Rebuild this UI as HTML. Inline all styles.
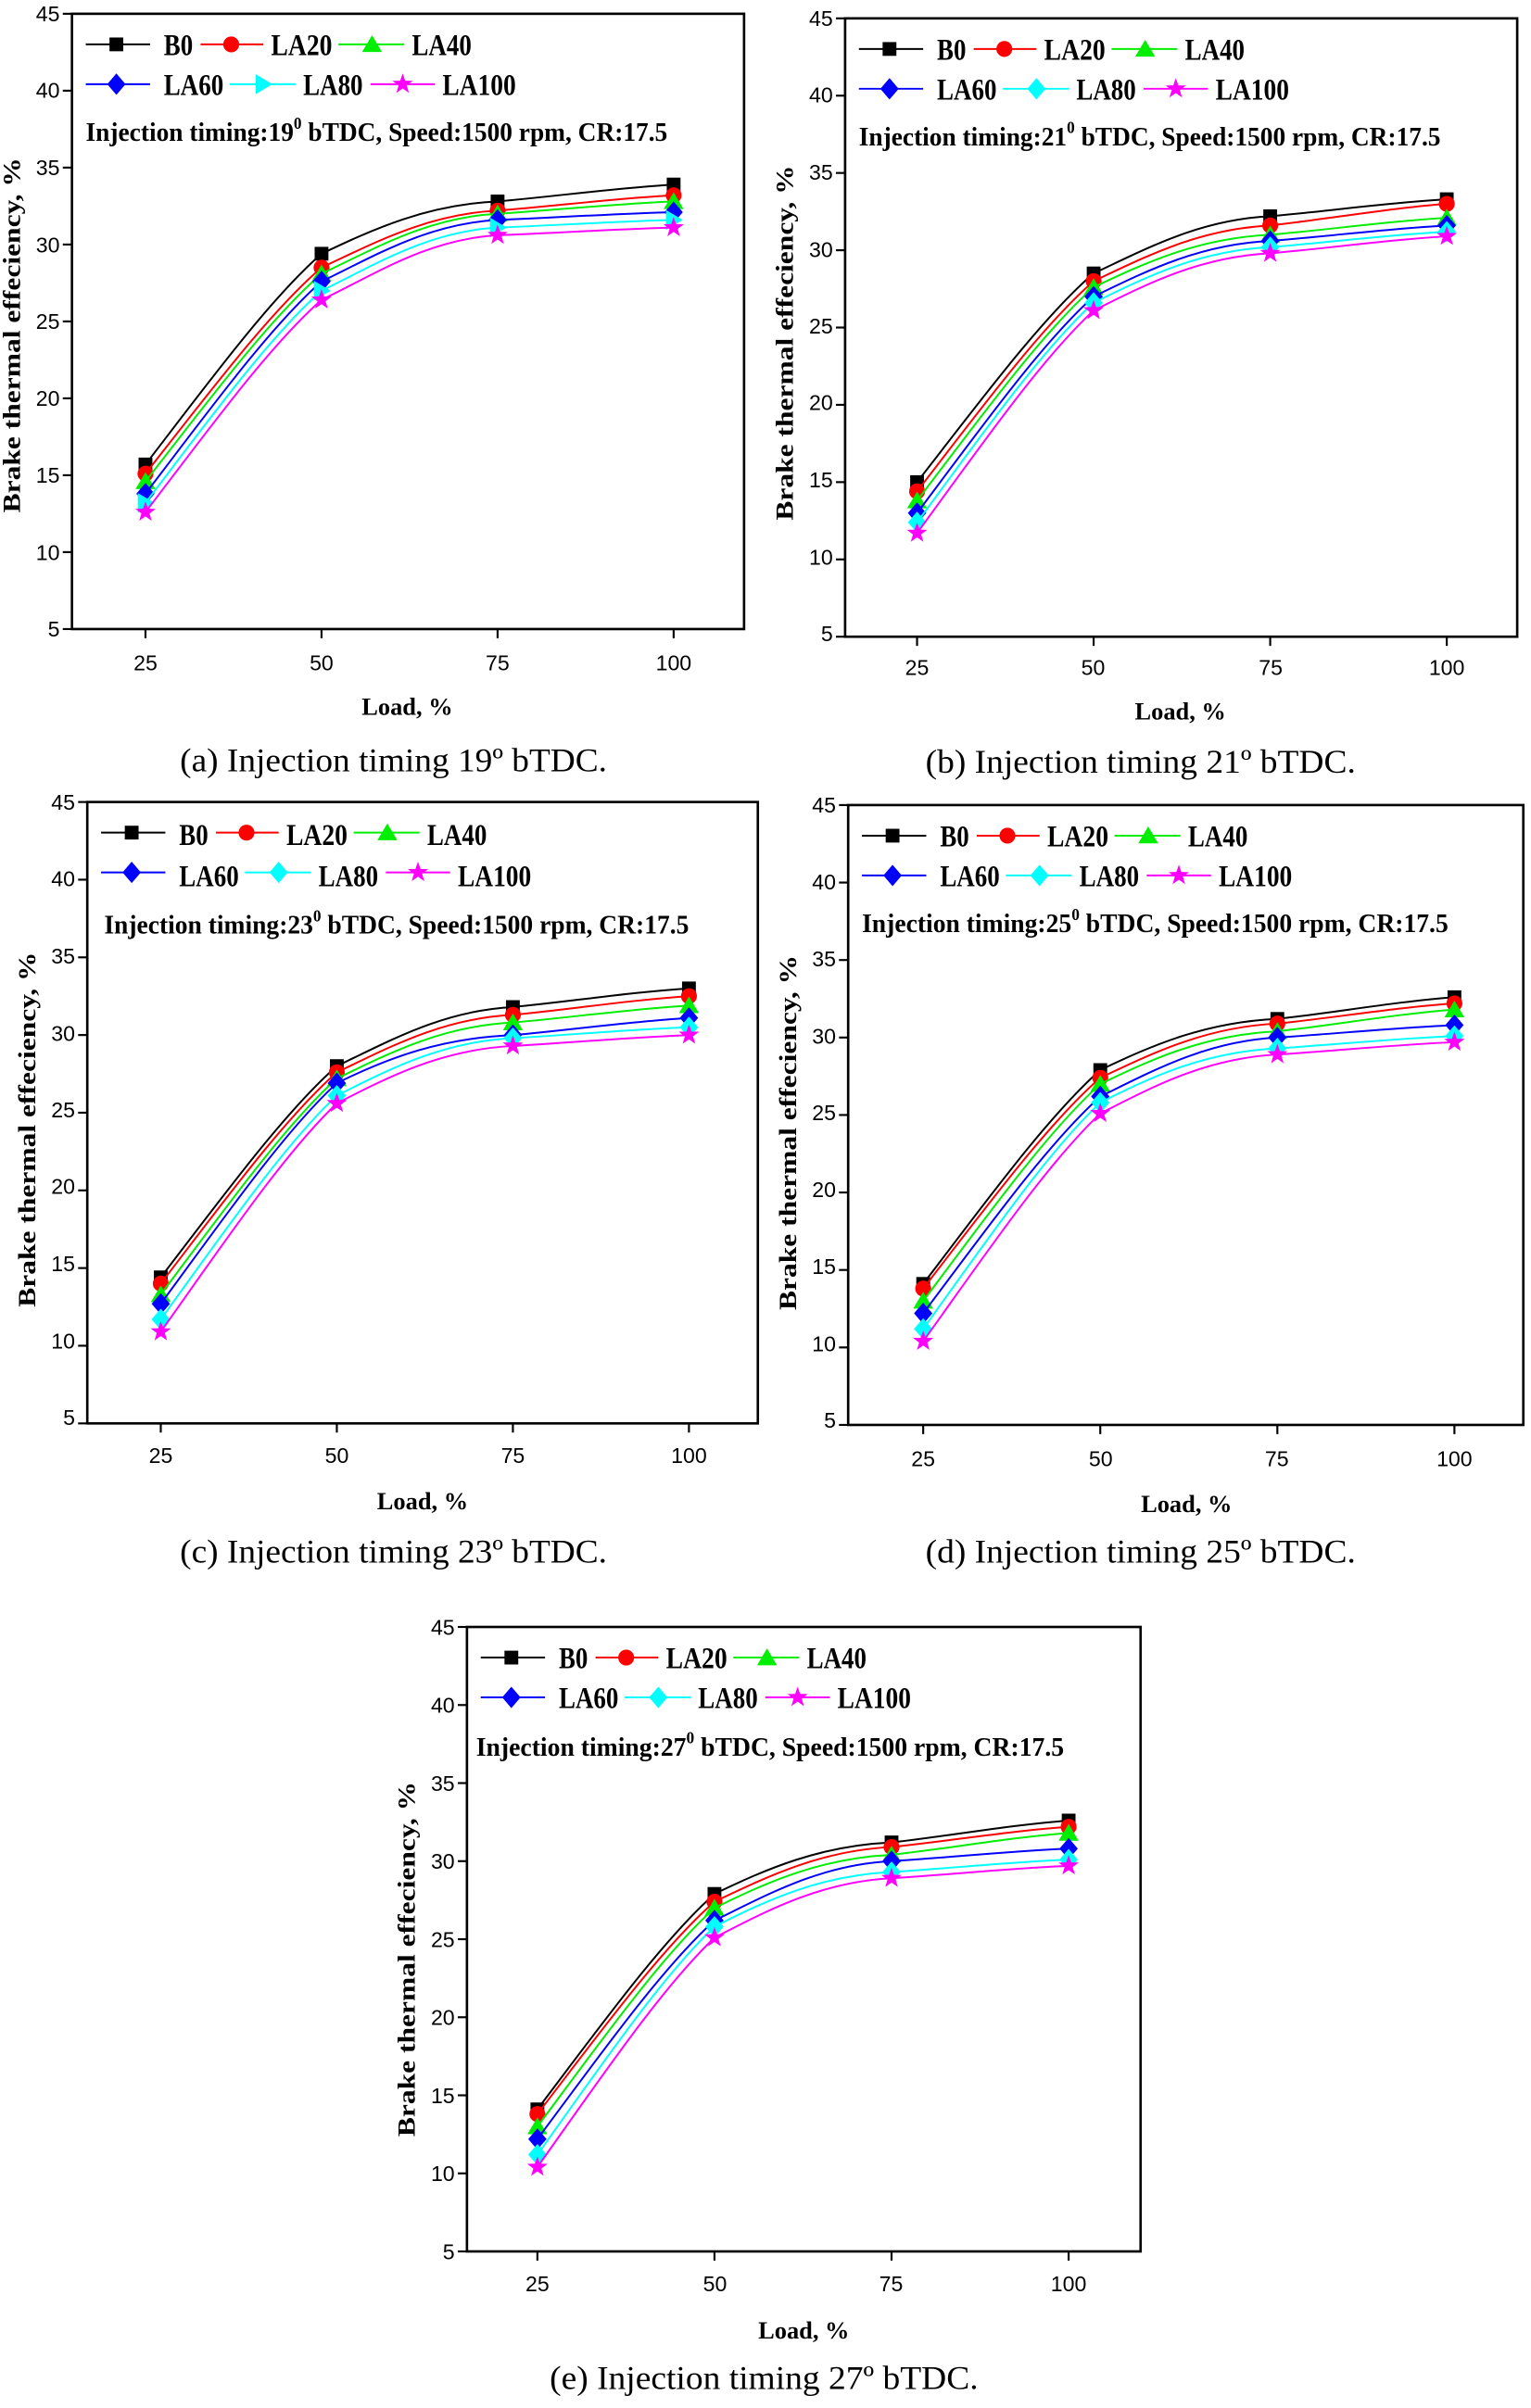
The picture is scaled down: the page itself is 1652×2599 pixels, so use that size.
<!DOCTYPE html>
<html><head><meta charset="utf-8"><style>
html,body{margin:0;padding:0;background:#fff}
svg{display:block}
.tk{font-family:"Liberation Sans",sans-serif;font-size:14px}
.lg{font-family:"Liberation Serif",serif;font-weight:bold;font-size:20px}
.inf{font-family:"Liberation Serif",serif;font-weight:bold;font-size:17.5px}
.ax{font-family:"Liberation Serif",serif;font-weight:bold;font-size:16px}
.cap{font-family:"Liberation Serif",serif;font-size:22px}
</style></head><body>
<svg id="s" width="1652" height="2599" viewBox="0 0 1000 1573.3" xmlns="http://www.w3.org/2000/svg">
<rect width="1000" height="1574" fill="#fff"/>
<g id="pa" transform="translate(47,9)">
<g class="tk" text-anchor="end"><text x="-8" y="5">45</text><text x="-8" y="55">40</text><text x="-8" y="105.5">35</text><text x="-8" y="156">30</text><text x="-8" y="206">25</text><text x="-8" y="256">20</text><text x="-8" y="306.5">15</text><text x="-8" y="357">10</text><text x="-8" y="407">5</text></g>
<g class="tk" text-anchor="middle"><text x="48" y="429">25</text><text x="163" y="429">50</text><text x="278" y="429">75</text><text x="393" y="429">100</text></g>
<text class="ax" x="219" y="458" text-anchor="middle">Load, %</text>
<text class="ax" transform="translate(-34,210) rotate(-90)" text-anchor="middle" textLength="232" lengthAdjust="spacingAndGlyphs">Brake thermal effeciency, %</text>
<g class="lg"><text x="60" y="27" textLength="19" lengthAdjust="spacingAndGlyphs">B0</text><text x="130" y="27" textLength="40" lengthAdjust="spacingAndGlyphs">LA20</text><text x="222" y="27" textLength="39" lengthAdjust="spacingAndGlyphs">LA40</text><text x="60" y="53" textLength="39" lengthAdjust="spacingAndGlyphs">LA60</text><text x="151" y="53" textLength="39" lengthAdjust="spacingAndGlyphs">LA80</text><text x="242" y="53" textLength="48" lengthAdjust="spacingAndGlyphs">LA100</text></g>
<text class="inf" x="9" y="83" textLength="380" lengthAdjust="spacingAndGlyphs">Injection timing:19<tspan dy="-8" font-size="11">0</tspan><tspan dy="8"> bTDC, Speed:1500 rpm, CR:17.5</tspan></text>
</g>
<g id="pb" transform="translate(552,12)">
<g class="tk" text-anchor="end"><text x="-8" y="5">45</text><text x="-8" y="55">40</text><text x="-8" y="105.5">35</text><text x="-8" y="156">30</text><text x="-8" y="206">25</text><text x="-8" y="256">20</text><text x="-8" y="306.5">15</text><text x="-8" y="357">10</text><text x="-8" y="407">5</text></g>
<g class="tk" text-anchor="middle"><text x="47" y="429">25</text><text x="162" y="429">50</text><text x="278" y="429">75</text><text x="393" y="429">100</text></g>
<text class="ax" x="219" y="458" text-anchor="middle">Load, %</text>
<text class="ax" transform="translate(-34,212) rotate(-90)" text-anchor="middle" textLength="232" lengthAdjust="spacingAndGlyphs">Brake thermal effeciency, %</text>
<g class="lg"><text x="60" y="27" textLength="19" lengthAdjust="spacingAndGlyphs">B0</text><text x="130" y="27" textLength="40" lengthAdjust="spacingAndGlyphs">LA20</text><text x="222" y="27" textLength="39" lengthAdjust="spacingAndGlyphs">LA40</text><text x="60" y="53" textLength="39" lengthAdjust="spacingAndGlyphs">LA60</text><text x="151" y="53" textLength="39" lengthAdjust="spacingAndGlyphs">LA80</text><text x="242" y="53" textLength="48" lengthAdjust="spacingAndGlyphs">LA100</text></g>
<text class="inf" x="9" y="83" textLength="380" lengthAdjust="spacingAndGlyphs">Injection timing:21<tspan dy="-8" font-size="11">0</tspan><tspan dy="8"> bTDC, Speed:1500 rpm, CR:17.5</tspan></text>
</g>
<g id="pc" transform="translate(57,524)">
<g class="tk" text-anchor="end"><text x="-8" y="5">45</text><text x="-8" y="55">40</text><text x="-8" y="105.5">35</text><text x="-8" y="156">30</text><text x="-8" y="206">25</text><text x="-8" y="256">20</text><text x="-8" y="306.5">15</text><text x="-8" y="357">10</text><text x="-8" y="407">5</text></g>
<g class="tk" text-anchor="middle"><text x="48" y="432">25</text><text x="163" y="432">50</text><text x="278" y="432">75</text><text x="393" y="432">100</text></g>
<text class="ax" x="219" y="462" text-anchor="middle">Load, %</text>
<text class="ax" transform="translate(-34,214) rotate(-90)" text-anchor="middle" textLength="232" lengthAdjust="spacingAndGlyphs">Brake thermal effeciency, %</text>
<g class="lg"><text x="60" y="28" textLength="19" lengthAdjust="spacingAndGlyphs">B0</text><text x="130" y="28" textLength="40" lengthAdjust="spacingAndGlyphs">LA20</text><text x="222" y="28" textLength="39" lengthAdjust="spacingAndGlyphs">LA40</text><text x="60" y="55" textLength="39" lengthAdjust="spacingAndGlyphs">LA60</text><text x="151" y="55" textLength="39" lengthAdjust="spacingAndGlyphs">LA80</text><text x="242" y="55" textLength="48" lengthAdjust="spacingAndGlyphs">LA100</text></g>
<text class="inf" x="11" y="86" textLength="382" lengthAdjust="spacingAndGlyphs">Injection timing:23<tspan dy="-8" font-size="11">0</tspan><tspan dy="8"> bTDC, Speed:1500 rpm, CR:17.5</tspan></text>
</g>
<g id="pd" transform="translate(554,526)">
<g class="tk" text-anchor="end"><text x="-8" y="5">45</text><text x="-8" y="55">40</text><text x="-8" y="105.5">35</text><text x="-8" y="156">30</text><text x="-8" y="206">25</text><text x="-8" y="256">20</text><text x="-8" y="306.5">15</text><text x="-8" y="357">10</text><text x="-8" y="407">5</text></g>
<g class="tk" text-anchor="middle"><text x="49" y="432">25</text><text x="165" y="432">50</text><text x="280" y="432">75</text><text x="396" y="432">100</text></g>
<text class="ax" x="221" y="462" text-anchor="middle">Load, %</text>
<text class="ax" transform="translate(-34,214) rotate(-90)" text-anchor="middle" textLength="232" lengthAdjust="spacingAndGlyphs">Brake thermal effeciency, %</text>
<g class="lg"><text x="60" y="27" textLength="19" lengthAdjust="spacingAndGlyphs">B0</text><text x="130" y="27" textLength="40" lengthAdjust="spacingAndGlyphs">LA20</text><text x="222" y="27" textLength="39" lengthAdjust="spacingAndGlyphs">LA40</text><text x="60" y="53" textLength="39" lengthAdjust="spacingAndGlyphs">LA60</text><text x="151" y="53" textLength="39" lengthAdjust="spacingAndGlyphs">LA80</text><text x="242" y="53" textLength="48" lengthAdjust="spacingAndGlyphs">LA100</text></g>
<text class="inf" x="9" y="83" textLength="383" lengthAdjust="spacingAndGlyphs">Injection timing:25<tspan dy="-8" font-size="11">0</tspan><tspan dy="8"> bTDC, Speed:1500 rpm, CR:17.5</tspan></text>
</g>
<g id="pe" transform="translate(305,1063)">
<g class="tk" text-anchor="end"><text x="-8" y="5">45</text><text x="-8" y="56">40</text><text x="-8" y="107">35</text><text x="-8" y="158">30</text><text x="-8" y="209">25</text><text x="-8" y="260">20</text><text x="-8" y="311">15</text><text x="-8" y="362">10</text><text x="-8" y="413">5</text></g>
<g class="tk" text-anchor="middle"><text x="46" y="434">25</text><text x="162" y="434">50</text><text x="277" y="434">75</text><text x="393" y="434">100</text></g>
<text class="ax" x="220" y="465" text-anchor="middle">Load, %</text>
<text class="ax" transform="translate(-34,217) rotate(-90)" text-anchor="middle" textLength="232" lengthAdjust="spacingAndGlyphs">Brake thermal effeciency, %</text>
<g class="lg"><text x="60" y="27" textLength="19" lengthAdjust="spacingAndGlyphs">B0</text><text x="130" y="27" textLength="40" lengthAdjust="spacingAndGlyphs">LA20</text><text x="222" y="27" textLength="39" lengthAdjust="spacingAndGlyphs">LA40</text><text x="60" y="53" textLength="39" lengthAdjust="spacingAndGlyphs">LA60</text><text x="151" y="53" textLength="39" lengthAdjust="spacingAndGlyphs">LA80</text><text x="242" y="53" textLength="48" lengthAdjust="spacingAndGlyphs">LA100</text></g>
<text class="inf" x="6" y="84" textLength="384" lengthAdjust="spacingAndGlyphs">Injection timing:27<tspan dy="-8" font-size="11">0</tspan><tspan dy="8"> bTDC, Speed:1500 rpm, CR:17.5</tspan></text>
</g>
<g class="cap" text-anchor="middle">
<text x="257" y="504" textLength="279" lengthAdjust="spacingAndGlyphs">(a) Injection timing 19º bTDC.</text>
<text x="745" y="505" textLength="281" lengthAdjust="spacingAndGlyphs">(b) Injection timing 21º bTDC.</text>
<text x="257" y="1021" textLength="279" lengthAdjust="spacingAndGlyphs">(c) Injection timing 23º bTDC.</text>
<text x="745" y="1021" textLength="281" lengthAdjust="spacingAndGlyphs">(d) Injection timing 25º bTDC.</text>
<text x="499" y="1561" textLength="280" lengthAdjust="spacingAndGlyphs">(e) Injection timing 27º bTDC.</text>
</g>
</svg>
<script>
(function(){
var NS="http://www.w3.org/2000/svg";
var P=[
{id:"pa",W:439,H:402,x0:48,x1:393,tri:true,d:[[15.7,29.4,32.8,33.9],[15.1,28.5,32.2,33.2],[14.6,28.1,32.0,32.8],[13.8,27.6,31.6,32.1],[13.2,27.0,31.1,31.6],[12.6,26.4,30.6,31.1]]},
{id:"pb",W:439,H:404,x0:47,x1:393,d:[[15.0,28.5,32.2,33.3],[14.4,28.0,31.6,33.0],[13.8,27.6,31.0,32.1],[13.0,27.0,30.6,31.6],[12.4,26.6,30.2,31.2],[11.7,26.1,29.8,30.9]]},
{id:"pc",W:438,H:406,x0:48,x1:393,d:[[14.4,28.0,31.8,33.0],[14.0,27.6,31.3,32.5],[13.3,27.2,30.8,31.9],[12.7,26.9,30.0,31.1],[11.7,26.1,29.8,30.5],[10.9,25.6,29.3,30.0]]},
{id:"pd",W:441,H:405,x0:49,x1:396,d:[[14.1,27.9,31.2,32.6],[13.8,27.4,30.9,32.2],[13.0,27.0,30.4,31.8],[12.2,26.2,30.0,30.8],[11.2,25.8,29.3,30.1],[10.4,25.1,28.9,29.7]]},
{id:"pe",W:440,H:408,x0:46,x1:393,d:[[14.1,27.9,31.2,32.6],[13.8,27.4,30.9,32.2],[13.0,27.0,30.4,31.8],[12.2,26.2,30.0,30.8],[11.2,25.8,29.3,30.1],[10.4,25.1,28.9,29.7]]}];
var C=["#000","#f00","#0e0","#00f","#0ff","#f0f"];
function el(t,a,p){var e=document.createElementNS(NS,t);for(var k in a)e.setAttribute(k,a[k]);p.appendChild(e);return e;}
function mk(g,i,x,y,tri){var c=C[i];
 if(i==0)el("rect",{x:x-4.5,y:y-4.5,width:9,height:9,fill:c},g);
 else if(i==1)el("circle",{cx:x,cy:y,r:5.2,fill:c},g);
 else if(i==2)el("polygon",{points:(x)+","+(y-6)+" "+(x+6.5)+","+(y+5)+" "+(x-6.5)+","+(y+5),fill:c},g);
 else if(i==4&&tri)el("polygon",{points:(x-5)+","+(y-6.5)+" "+(x+6)+","+y+" "+(x-5)+","+(y+6.5),fill:c},g);
 else if(i==3||i==4)el("polygon",{points:x+","+(y-7)+" "+(x+6)+","+y+" "+x+","+(y+7)+" "+(x-6)+","+y,fill:c},g);
 else{var s="";for(var k=0;k<10;k++){var r=k%2?2.8:7,a=-Math.PI/2+k*Math.PI/5;s+=(x+r*Math.cos(a)).toFixed(2)+","+(y+r*Math.sin(a)).toFixed(2)+" ";}el("polygon",{points:s,fill:c},g);}
}
P.forEach(function(p){
 var g=document.getElementById(p.id);
 var H=p.H,W=p.W;
 el("rect",{x:0,y:0,width:W,height:H,fill:"none",stroke:"#000","stroke-width":1.6},g);
 for(var v=5;v<=45;v+=5){var y=(45-v)/40*H;el("line",{x1:-6,y1:y,x2:0,y2:y,stroke:"#000","stroke-width":1.3},g);}
 for(var j=0;j<4;j++){var x=p.x0+j*(p.x1-p.x0)/3;el("line",{x1:x,y1:H,x2:x,y2:H+6,stroke:"#000","stroke-width":1.3},g);}
 var L=[[9,51,29,20],[84,125,104,20],[174,217,196,20],[9,51,29,46],[103,146,125,46],[195,237,216,46]];
 L.forEach(function(l,i){el("line",{x1:l[0],y1:l[3],x2:l[1],y2:l[3],stroke:C[i],"stroke-width":1.2},g);mk(g,i,l[2],l[3],p.tri);});
 p.d.forEach(function(s,i){
  var pts=s.map(function(v,j){return [p.x0+j*(p.x1-p.x0)/3,(45-v)/40*H];});
  var dx=(p.x1-p.x0)/3;
  var a=pts[0],b=pts[1],c=pts[2],e=pts[3];
  var d="M"+a[0]+","+a[1];
  // 25->50 nearly straight, slight bend at end
  d+=" C"+(a[0]+dx*0.35).toFixed(1)+","+(a[1]+(b[1]-a[1])*0.38).toFixed(1)+" "+(b[0]-dx*0.3).toFixed(1)+","+(b[1]+(a[1]-b[1])*0.22).toFixed(1)+" "+b[0].toFixed(1)+","+b[1].toFixed(1);
  // 50->75 plateau bend
  var sl=(b[1]-a[1])/dx*0.22;
  d+=" C"+(b[0]+dx*0.3).toFixed(1)+","+(b[1]+sl*dx*0.3*1.8).toFixed(1)+" "+(c[0]-dx*0.4).toFixed(1)+","+(c[1]+(b[1]-c[1])*0.06).toFixed(1)+" "+c[0].toFixed(1)+","+c[1].toFixed(1);
  d+=" C"+(c[0]+dx*0.33).toFixed(1)+","+(c[1]+(e[1]-c[1])*0.3).toFixed(1)+" "+(e[0]-dx*0.33).toFixed(1)+","+(e[1]+(c[1]-e[1])*0.2).toFixed(1)+" "+e[0].toFixed(1)+","+e[1].toFixed(1);
  el("path",{d:d,fill:"none",stroke:C[i],"stroke-width":1.2},g);
  pts.forEach(function(q){mk(g,i,q[0],q[1],p.tri);});
 });
});
})();
</script>
</body></html>
